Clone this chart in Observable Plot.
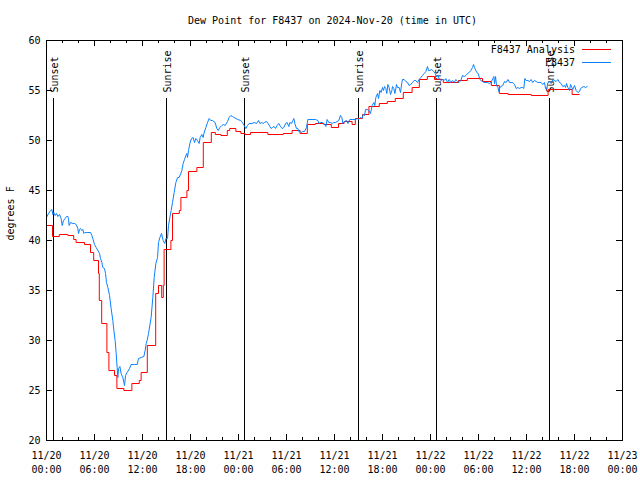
<!DOCTYPE html>
<html><head><meta charset="utf-8">
<script src="https://cdn.jsdelivr.net/npm/d3@7"></script>
<script src="https://cdn.jsdelivr.net/npm/@observablehq/plot@0.6"></script>
<style>body{margin:0;background:#fff} svg{display:block}</style>
</head><body><div id="chart"></div>
<script>
const titleText = "Dew Point for F8437 on 2024-Nov-20 (time in UTC)";
const yLabelText = "degrees F";
const seriesNames = ["F8437 Analysis", "F8437"];
const startUTC = Date.UTC(2024, 10, 20, 0, 0);

// hours since 2024-11-20 00:00 UTC
const analysisHours = [0,0.75,1.6,2.67,3.4,3.7,4.75,5.5,5.9,6.5,6.6,6.9,7.55,7.8,8.5,8.8,9.67,10.67,11.6,11.83,12.6,13.65,14.0,14.4,14.6,14.7,15.55,15.75,16.6,16.8,17.55,17.75,18.8,19.6,20.6,21.1,21.8,22.6,22.9,23.67,24.3,24.8,25.5,27.67,29.6,30.7,31.7,32.6,33.6,34.67,35.6,36.5,37.2,38.2,38.6,39.5,40.3,41.6,42.6,43.6,44.6,45.7,46.6,47.6,48.5,49.6,51.5,52.6,54.5,55.6,56.6,57.7,60.6,62.7,63.5,65.7,66.6];
const analysisValues = [41.5,40.4,40.6,40.5,40.1,39.8,39.6,38.8,38.0,36.7,34.0,31.7,28.8,27.0,26.5,25.2,25.0,25.7,26.0,26.8,29.5,34.7,35.5,34.3,35.5,39.1,40.0,42.7,43.0,44.3,45.0,46.9,47.3,49.8,50.8,50.6,50.5,51.0,51.2,50.9,50.7,50.6,50.8,50.6,50.7,51.0,50.7,51.6,51.7,51.6,51.3,51.7,51.9,51.6,52.2,52.6,53.4,53.7,53.9,54.2,54.8,55.3,56.1,56.4,56.1,55.8,56.0,56.2,55.9,55.5,54.7,54.6,54.5,55.1,55.1,54.6,54.6];

const obsHours = [0,0.25,0.5,0.67,0.79,0.92,1.08,1.25,1.42,1.63,1.83,1.96,2.13,2.33,2.5,2.67,2.75,2.83,3.0,3.29,3.5,3.71,3.92,4.0,4.13,4.25,4.42,4.54,4.67,4.79,4.96,5.17,5.5,5.67,5.79,6.0,6.21,6.42,6.63,6.75,6.92,7.04,7.25,7.38,7.5,7.67,7.88,8.08,8.29,8.42,8.58,8.71,8.83,8.92,9.0,9.17,9.33,9.54,9.67,9.75,9.88,10.08,10.38,10.58,11.0,11.33,11.5,11.83,12.17,12.33,12.46,12.58,12.75,13.08,13.29,
13.46,13.67,13.88,14.0,14.17,14.38,14.58,14.79,14.92,15.13,15.25,15.42,15.58,15.75,15.96,16.17,16.38,16.58,16.79,16.92,17.08,17.25,17.42,17.54,17.63,17.75,17.92,18.13,18.33,18.5,18.67,18.88,19.08,19.21,19.42,19.58,19.71,19.92,20.13,20.33,20.54,20.75,21.08,21.29,21.46,21.67,21.92,22.13,22.33,22.63,22.83,23.04,23.25,23.46,23.88,24.29,24.5,24.71,24.92,25.13,25.33,25.67,25.96,26.25,26.5,26.67,26.92,27.08,
27.25,27.5,27.71,27.92,28.08,28.25,28.42,28.63,28.83,29.04,29.25,29.46,29.67,29.88,30.08,30.29,30.42,30.63,30.79,30.92,31.04,31.25,31.42,31.54,31.67,31.83,32.04,32.25,32.5,32.67,32.92,33.21,33.63,33.92,34.04,34.25,34.46,34.67,34.92,35.08,35.29,35.5,35.71,35.92,36.13,36.33,36.54,36.75,36.92,37.04,37.25,37.5,37.67,37.92,38.21,38.63,38.83,39.04,39.25,39.46,39.58,39.75,39.88,40.08,40.29,40.5,40.71,40.92,41.04,41.17,
41.38,41.5,41.67,41.83,42.0,42.13,42.25,42.42,42.54,42.67,42.83,43.0,43.17,43.25,43.42,43.54,43.67,43.75,43.88,44.08,44.25,44.42,44.5,44.71,44.92,45.13,45.33,45.54,45.75,45.96,46.17,46.38,46.58,46.79,47.0,47.21,47.42,47.63,47.75,47.92,48.17,48.38,48.58,48.75,48.96,49.08,49.29,49.5,49.71,49.92,50.13,50.33,50.54,50.75,50.96,51.17,51.38,51.58,51.79,52.0,52.21,52.42,52.63,52.83,53.04,53.25,53.38,53.5,53.67,53.79,53.96,54.17,54.33,54.5,54.71,54.92,55.13,
55.38,55.58,55.79,55.92,56.0,56.13,56.25,56.42,56.54,56.67,56.83,57.04,57.25,57.46,57.67,57.88,58.08,58.29,58.5,58.71,58.92,59.13,59.33,59.54,59.67,59.79,59.96,60.17,60.38,60.58,60.79,61.0,61.21,61.42,61.63,61.83,62.04,62.25,62.38,62.54,62.67,62.88,63.08,63.29,63.5,63.71,63.92,64.13,64.33,64.54,64.75,64.88,65.0,65.17,65.38,65.5,65.67,65.79,66.0,66.21,66.42,66.63,66.75,66.92,67.17,67.38,67.58];
const obsValues = [42.3,42.7,43.0,43.1,42.6,42.8,42.5,42.7,42.4,42.6,42.2,41.5,42.0,42.2,42.4,42.4,42.2,41.5,41.8,41.7,41.7,41.6,41.2,40.7,41.1,41.2,41.0,41.1,40.7,40.8,40.8,40.8,40.8,40.5,40.2,39.6,39.3,39.0,38.7,38.2,37.8,37.3,37.2,36.7,35.8,35.3,34.5,33.2,32.0,31.0,30.0,28.7,27.3,26.3,27.2,27.4,26.7,26.3,25.8,25.5,26.5,26.8,27.2,27.6,27.6,27.6,28.2,28.3,28.4,29.0,29.7,30.0,30.7,32.3,34.3,
36.3,37.7,38.3,39.8,40.3,40.7,40.0,39.7,40.2,40.2,41.5,42.3,43.0,43.8,44.8,45.8,46.3,46.3,46.7,47.0,47.7,48.1,48.5,48.7,48.3,49.0,49.7,50.2,50.3,49.8,50.2,50.0,49.7,50.3,50.6,50.3,50.8,51.3,51.8,52.2,52.0,52.0,51.8,51.2,51.0,51.3,51.5,51.6,51.5,51.9,52.3,52.5,52.4,52.3,52.1,52.0,51.8,51.5,51.2,51.5,51.7,51.7,51.8,51.7,52.0,51.7,51.8,51.7,
51.8,51.9,51.7,51.4,51.2,51.3,51.4,51.2,51.5,51.7,51.4,51.2,51.3,51.7,51.8,51.4,51.8,51.7,52.0,52.2,51.7,51.2,51.2,50.9,50.9,50.8,50.9,50.9,51.3,52.1,52.1,52.1,52.1,52.0,51.7,51.8,51.8,51.7,51.4,52.1,51.8,51.8,51.7,51.8,51.8,51.9,52.0,52.5,52.3,51.7,51.9,52.0,51.7,52.1,52.1,52.1,52.2,52.1,52.3,52.2,52.6,52.5,53.1,53.1,53.0,52.7,53.5,53.8,53.5,54.3,
54.7,54.2,55.0,54.8,55.3,55.0,55.4,55.2,54.7,55.6,55.3,54.6,55.0,55.4,55.2,54.7,55.2,55.6,55.3,55.3,54.8,55.8,56.1,56.1,55.9,55.8,55.5,55.6,55.8,56.0,56.0,55.8,56.1,56.3,56.5,56.7,56.9,57.4,57.0,57.0,57.1,56.9,56.7,56.4,56.5,56.2,56.0,56.1,56.0,56.2,55.8,56.1,55.8,56.0,55.8,56.1,55.9,55.8,56.0,56.5,56.4,56.5,56.7,56.8,57.0,57.3,57.6,57.3,57.0,56.8,56.7,56.1,56.0,55.9,55.8,55.8,55.8,
55.7,55.8,56.2,56.4,55.7,56.4,55.5,55.3,54.9,55.3,55.4,55.5,55.9,55.8,56.1,55.8,55.8,55.8,55.6,55.2,55.3,55.2,55.3,55.3,55.2,56.2,56.0,56.0,55.9,56.1,55.8,56.0,55.9,55.8,55.8,55.8,55.6,55.8,55.2,55.2,55.8,55.9,55.7,56.1,56.0,55.9,56.1,55.8,55.7,55.4,55.5,55.3,55.7,55.3,55.0,55.6,55.3,55.1,55.5,55.0,54.8,54.9,55.2,55.3,55.4,55.3,55.4];

const eventLabels = ["Sunset", "Sunrise", "Sunset", "Sunrise", "Sunset", "Sunrise"];
const eventHours = [0.875, 15.0, 24.75, 39.0, 48.75, 62.875];
const yTicks = [20, 25, 30, 35, 40, 45, 50, 55, 60];
const xTickHours = [0, 6, 12, 18, 24, 30, 36, 42, 48, 54, 60, 66, 72];
const xMinorHours = [2, 4, 8, 10, 14, 16, 20, 22, 26, 28, 32, 34, 38, 40, 44, 46, 50, 52, 56, 58, 62, 64, 68, 70];

const mono = "'DejaVu Sans Mono', 'Liberation Mono', monospace";
const toDate = h => new Date(startUTC + h * 3600e3);
const analysis = analysisHours.map((h, i) => ({date: toDate(h), value: analysisValues[i]}));
const obs = obsHours.map((h, i) => ({date: toDate(h), value: obsValues[i]}));
const events = eventHours.map((h, i) => ({date: toDate(h), label: eventLabels[i]}));
const majorX = xTickHours.map(toDate);
const minorX = xMinorHours.map(toDate);
const pad = n => String(n).padStart(2, "0");
const fmtX = d => `${pad(d.getUTCMonth() + 1)}/${pad(d.getUTCDate())}\n${pad(d.getUTCHours())}:${pad(d.getUTCMinutes())}`;
const colors = ["#ff0000", "#0a80ff"];

const plot = Plot.plot({
  width: 640, height: 480,
  marginLeft: 46, marginRight: 18, marginTop: 40, marginBottom: 40,
  style: {fontFamily: mono, fontSize: "10px", background: "#ffffff", color: "#000000"},
  x: {type: "utc", domain: [toDate(0), toDate(72)]},
  y: {domain: [20, 60]},
  marks: [
    Plot.tickX(majorX, {x: d => d, insetTop: 394, stroke: "#000"}),
    Plot.tickX(majorX, {x: d => d, insetBottom: 394, stroke: "#000"}),
    Plot.tickX(minorX, {x: d => d, insetTop: 397, stroke: "#000"}),
    Plot.tickX(minorX, {x: d => d, insetBottom: 397, stroke: "#000"}),
    Plot.tickY(yTicks, {y: d => d, insetRight: 570, stroke: "#000"}),
    Plot.tickY(yTicks, {y: d => d, insetLeft: 570, stroke: "#000"}),
    Plot.axisY(yTicks, {tickSize: 0, tickPadding: 6, label: null, fontSize: 10}),
    Plot.axisX(majorX, {tickSize: 0, tickPadding: 9, tickFormat: fmtX, lineHeight: 1.4, label: null, fontSize: 10}),
    Plot.ruleX(events, {x: "date", y1: 20, y2: 54.2, stroke: "#000"}),
    Plot.text(events, {x: "date", text: "label", frameAnchor: "top", lineAnchor: "middle", dy: 52, dx: 1, rotate: -90, textAnchor: "start", fontSize: 10}),
    Plot.line(analysis, {x: "date", y: "value", curve: "step-after", stroke: colors[0], strokeWidth: 1}),
    Plot.line(obs, {x: "date", y: "value", stroke: colors[1], strokeWidth: 1}),
    Plot.frame({stroke: "#000"}),
    Plot.text([titleText], {frameAnchor: "top", lineAnchor: "middle", dy: -20, dx: -2, fontSize: 10}),
    Plot.text([yLabelText], {frameAnchor: "left", lineAnchor: "middle", dx: -36, rotate: -90, fontSize: 10})
  ]
});

const svg = d3.select(plot);
const leg = svg.append("g").attr("font-family", mono).attr("font-size", 10);
seriesNames.forEach((name, i) => {
  const y = 49 + i * 13;
  leg.append("text").attr("x", 575).attr("y", y + 1).attr("dy", "0.32em").attr("text-anchor", "end").attr("fill", "#000").text(name);
  leg.append("line").attr("x1", 582).attr("x2", 611).attr("y1", y + 0.5).attr("y2", y + 0.5).attr("stroke", colors[i]).attr("stroke-width", 1);
});

document.getElementById("chart").appendChild(plot);
</script>
</body></html>
